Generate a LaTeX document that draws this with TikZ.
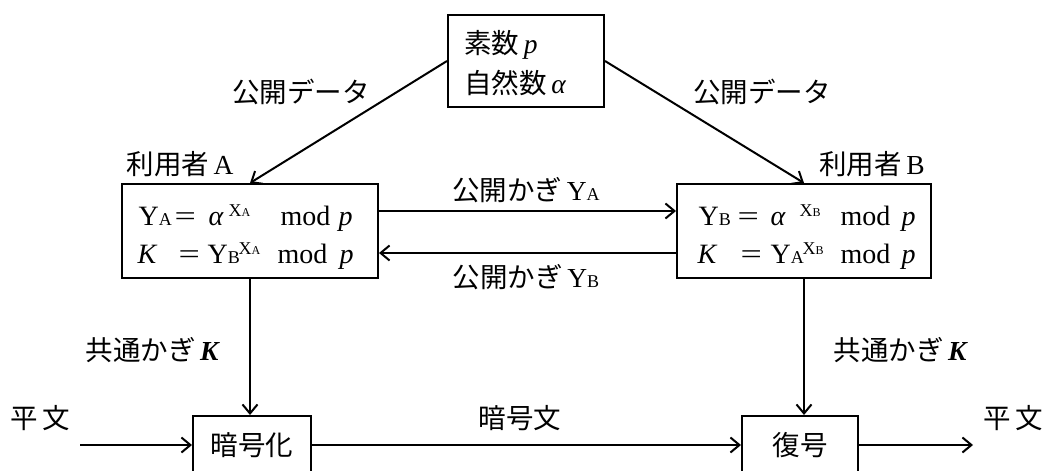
\documentclass[tikz,border=0pt]{standalone}
\usepackage{fontspec}
\setmainfont{Liberation Serif}
\newfontfamily\jp{Noto Sans CJK JP}
\usetikzlibrary{arrows.meta}
\tikzset{
 box/.style={draw, line width=2pt, inner sep=0pt},
 arr/.style={line width=2pt, -{Straight Barb[length=9pt,width=15pt]}},
 lbl/.style={inner sep=0pt, font=\jp\fontsize{27.5}{30}\selectfont},
 fml/.style={inner sep=0pt, anchor=base west, font=\fontsize{28}{30}\selectfont},
}
\newcommand\sA[1]{{\fontsize{18}{18}\selectfont #1}}
\newcommand\supX[1]{\raisebox{9pt}{\fontsize{18}{18}\selectfont X\fontsize{12}{12}\selectfont #1}}
\newcommand\putat[2]{\rlap{\hspace{#1}#2}}
\newcommand\eqs{\scalebox{1.35}[1]{=}}
\newcommand\ip{{\rmfamily\itshape p}}
\begin{document}
\begin{tikzpicture}[x=1pt,y=-1pt]
\path[use as bounding box] (0,0) rectangle (1047,471);
\clip (0,0) rectangle (1047,471);
% top box
\node[box, minimum width=156pt, minimum height=92pt] (top) at (526,61) {};
\node[lbl, anchor=base west] (t1) at (464,53) {素数\,\ip};
\node[lbl, anchor=base west] (t2) at (464,93) {自然数\,{\rmfamily\itshape α}};
% user boxes
\node[box, minimum width=256pt, minimum height=94pt] (A) at (250,231) {};
\node[box, minimum width=254pt, minimum height=94pt] (B) at (804,231) {};
\node[fml] (a1) at (138,225) {\putat{0pt}{Y\sA{A}}\putat{36pt}{\eqs}\putat{70pt}{\itshape α}\putat{90pt}{\supX{A}}\putat{142pt}{mod}\putat{200pt}{\ip}\hspace{216pt}};
\node[fml] (a2) at (138,263) {\putat{-1pt}{\itshape K}\putat{40pt}{\eqs}\putat{69pt}{Y\sA{B}}\putat{100pt}{\supX{A}}\putat{139pt}{mod}\putat{201pt}{\ip}\hspace{216pt}};
\node[fml] (b1) at (697,225) {\putat{1pt}{Y\sA{B}}\putat{40pt}{\eqs}\putat{73pt}{\itshape α}\putat{102pt}{\supX{B}}\putat{143pt}{mod}\putat{204pt}{\ip}\hspace{218pt}};
\node[fml] (b2) at (697,263) {\putat{0pt}{\itshape K}\putat{43pt}{\eqs}\putat{73pt}{Y\sA{A}}\putat{105pt}{\supX{B}}\putat{143pt}{mod}\putat{204pt}{\ip}\hspace{218pt}};
% labels
\node[lbl] (pl) at (301,92) {公開データ};
\node[lbl] (pr) at (762,92) {公開データ};
\node[lbl] (ua) at (180,164) {利用者\,{\rmfamily A}};
\node[lbl] (ub) at (872,164) {利用者\,{\rmfamily B}};
\node[lbl] (ka) at (526,190) {公開かぎ\,{\rmfamily Y\sA{A}}};
\node[lbl] (kb) at (526,277) {公開かぎ\,{\rmfamily Y\sA{B}}};
\node[lbl] (cl) at (152,350) {共通かぎ\,{\rmfamily\bfseries\itshape K}};
\node[lbl] (cr) at (900,350) {共通かぎ\,{\rmfamily\bfseries\itshape K}};
\node[lbl] (m1) at (40,418) {平\,文};
\node[lbl] (m2) at (520,418) {暗号文};
\node[lbl] (m3) at (1013,418) {平\,文};
% bottom boxes
\node[box, minimum width=118pt, minimum height=58pt, font=\jp\fontsize{27.5}{30}\selectfont] (enc) at (252,445) {暗号化};
\node[box, minimum width=116pt, minimum height=58pt, font=\jp\fontsize{27.5}{30}\selectfont] (dec) at (800,445) {復号};
\coordinate (in) at (80,445);
\coordinate (out) at (973,445);
% connectors
\draw[arr] (top.west) -- (A.north);
\draw[arr] (top.east) -- (B.north);
\draw[arr] ([yshift=20pt]A.east) -- ([yshift=20pt]B.west);
\draw[arr] ([yshift=-22pt]B.west) -- ([yshift=-22pt]A.east);
\draw[arr] (A.south) -- (A.south |- enc.north);
\draw[arr] (B.south) -- (B.south |- dec.north);
\draw[arr] (in) -- (enc.west);
\draw[arr] (enc.east) -- (dec.west);
\draw[arr] (dec.east) -- (out);
\end{tikzpicture}
\end{document}
